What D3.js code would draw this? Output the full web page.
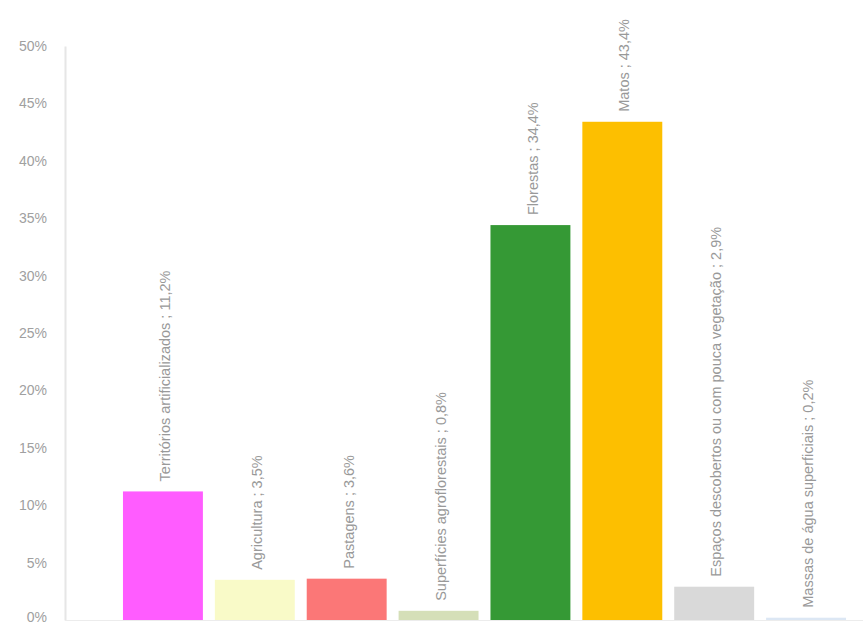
<!DOCTYPE html>
<html>
<head>
<meta charset="utf-8">
<script src="https://cdn.jsdelivr.net/npm/d3@7"></script>
<style>
  html, body { margin: 0; padding: 0; background: #fff; }
  #chart { width: 863px; height: 624px; }
  text { font-family: "Liberation Sans", Arial, sans-serif; }
</style>
</head>
<body>
<div id="chart"></div>
<script>
"use strict";

const categories = [
  "Territórios artificializados",
  "Agricultura",
  "Pastagens",
  "Superfícies agroflorestais",
  "Florestas",
  "Matos",
  "Espaços descobertos ou com pouca vegetação",
  "Massas de água superficiais",
];
const values = [11.2, 3.5, 3.6, 0.8, 34.4, 43.4, 2.9, 0.2];
const valueLabels = ["11,2%", "3,5%", "3,6%", "0,8%", "34,4%", "43,4%", "2,9%", "0,2%"];
const colors = ["#ff5cff", "#f9fac8", "#fb7777", "#d5dfb8", "#359935", "#fdbf00", "#d9d9d9", "#dce7f4"];
const yTicks = [0, 5, 10, 15, 20, 25, 30, 35, 40, 45, 50];

const W = 863, H = 624;

const svg = d3.select("#chart").append("svg").attr("width", W).attr("height", H);

const x = d3.scaleBand()
  .domain(categories)
  .range([117, 852])
  .paddingInner(0.13)
  .paddingOuter(0.065);

const y = d3.scaleLinear().domain([0, 50]).range([620, 46]);

// y axis, no tick marks, light line
const yAxis = svg.append("g")
  .attr("transform", "translate(65,0)")
  .call(d3.axisLeft(y).tickValues(yTicks).tickSize(0).tickSizeOuter(0).tickPadding(18)
    .tickFormat((d) => d + "%"));
yAxis.select(".domain").attr("stroke", "#e6e6e6").attr("stroke-width", 2);
yAxis.selectAll("text")
  .attr("fill", "#a0a0a0")
  .attr("font-size", "14px")
  .style("font-family", "'Liberation Sans', Arial, sans-serif");
// the bottom label sits on the edge, lift it a little
yAxis.selectAll(".tick").filter((d) => d === 0).select("text").attr("dy", "0.1em");

// baseline
svg.append("line")
  .attr("x1", 65).attr("x2", W)
  .attr("y1", y(0) + 0.5).attr("y2", y(0) + 0.5)
  .attr("stroke", "#ececec");

svg.append("g")
  .selectAll("rect")
  .data(categories)
  .enter()
  .append("rect")
  .attr("x", (d) => x(d))
  .attr("width", x.bandwidth())
  .attr("y", (d, i) => y(values[i]))
  .attr("height", (d, i) => y(0) - y(values[i]))
  .attr("fill", (d, i) => colors[i]);

// rotated value labels above each bar
svg.append("g")
  .selectAll("text")
  .data(categories)
  .enter()
  .append("text")
  .attr("transform", (d, i) => {
    const cx = x(d) + x.bandwidth() / 2 + 2;
    const cy = y(values[i]) - 10;
    return `translate(${cx},${cy}) rotate(-90)`;
  })
  .attr("dy", "0.35em")
  .attr("text-anchor", "start")
  .attr("font-size", "14.5px")
  .attr("fill", "#999999")
  .text((d, i) => d + " ; " + valueLabels[i]);
</script>
</body>
</html>
